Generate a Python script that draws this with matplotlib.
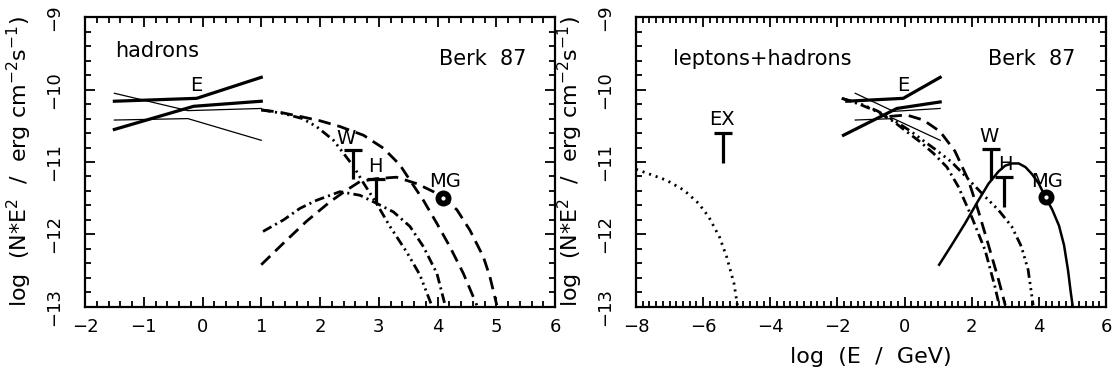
import matplotlib
matplotlib.use("Agg")
import matplotlib.pyplot as plt
from matplotlib.ticker import MultipleLocator

plt.rcParams['font.family'] = ['DejaVu Sans']
plt.rcParams['mathtext.fontset'] = 'dejavusans'
plt.rcParams['lines.scale_dashes'] = False

# ---------------- data: left panel (hadrons) ----------------
eg_thickA_x = [-1.5, -0.1, 1.0]
eg_thickA_y = [-10.16, -10.12, -9.83]
eg_thickB_x = [-1.5, -0.15, 1.0]
eg_thickB_y = [-10.55, -10.23, -10.16]
eg_thinC_x = [-1.5, -0.25, 1.0]
eg_thinC_y = [-10.05, -10.29, -10.26]
eg_thinD_x = [-1.5, -0.25, 1.0]
eg_thinD_y = [-10.42, -10.40, -10.70]

h_up_dash_x = [1.0, 1.3, 1.66, 2.0, 2.34, 2.74, 3.08, 3.36, 3.53, 3.76, 3.99, 4.21, 4.44, 4.67]
h_up_dash_y = [-10.28, -10.31, -10.37, -10.43, -10.51, -10.63, -10.81, -11.04, -11.25, -11.53, -11.85, -12.17, -12.54, -12.98]
h_up_dd_x = [1.0, 1.38, 1.7, 1.94, 2.23, 2.40, 2.57, 2.74, 2.96, 3.19, 3.48, 3.70, 3.90]
h_up_dd_y = [-10.28, -10.33, -10.40, -10.51, -10.70, -10.88, -11.06, -11.29, -11.57, -11.89, -12.25, -12.56, -12.98]
h_lo_dd_x = [1.03, 1.38, 1.66, 1.94, 2.34, 2.68, 2.96, 3.25, 3.53, 3.76, 3.99, 4.13]
h_lo_dd_y = [-11.96, -11.80, -11.64, -11.53, -11.41, -11.46, -11.57, -11.69, -11.89, -12.17, -12.54, -12.98]
h_lo_dash_x = [1.0, 1.38, 1.77, 2.17, 2.45, 2.68, 2.96, 3.30, 3.65, 3.93, 4.10, 4.33, 4.55, 4.78, 4.89, 5.01]
h_lo_dash_y = [-12.42, -12.12, -11.82, -11.55, -11.39, -11.27, -11.23, -11.21, -11.30, -11.41, -11.50, -11.66, -11.94, -12.31, -12.58, -12.98]

# upper limits: x, top, bottom
h_ul_labels = ['W', 'H']
h_ul_x = [2.57, 2.96]
h_ul_top = [-10.83, -11.23]
h_ul_bot = [-11.23, -11.57]
h_ul_text_x = [2.45, 2.94]
h_ul_text_y = [-10.67, -11.06]
h_mg_x, h_mg_y = 4.10, -11.50
h_mg_text = (4.13, -11.27)
h_E_text = (-0.1, -9.94)

# ---------------- data: right panel (leptons+hadrons) ----------------
r_thickA_x = [-1.72, -0.04, 1.06]
r_thickA_y = [-10.16, -10.12, -9.83]
r_thickB_x = [-1.82, -0.23, 1.06]
r_thickB_y = [-10.63, -10.26, -10.17]
r_thinC_x = [-1.47, -0.33, 1.06]
r_thinC_y = [-10.05, -10.30, -10.26]
r_thinD_x = [-1.47, -0.33, 1.06]
r_thinD_y = [-10.42, -10.40, -10.70]

r_sync_x = [-8.0, -7.1, -6.57, -6.14, -5.83, -5.51, -5.30, -5.08, -4.98]
r_sync_y = [-11.10, -11.25, -11.39, -11.57, -11.76, -12.04, -12.31, -12.68, -12.98]
r_dash_x = [-0.45, 0.06, 0.56, 1.06, 1.5, 1.9, 2.2, 2.5, 2.8, 3.0]
r_dash_y = [-10.37, -10.35, -10.42, -10.58, -10.85, -11.25, -11.68, -12.15, -12.63, -12.98]
r_dd_x = [-1.87, -1.35, -0.83, -0.33, 0.06, 0.46, 0.86, 1.26, 1.6, 2.0, 2.4, 2.69, 2.82]
r_dd_y = [-10.12, -10.20, -10.30, -10.44, -10.58, -10.72, -10.88, -11.07, -11.34, -11.76, -12.22, -12.72, -12.98]
r_ddd_x = [-1.87, -1.35, -0.83, -0.33, 0.2, 0.6, 0.93, 1.4, 1.82, 2.40, 2.79, 3.19, 3.48, 3.68, 3.83]
r_ddd_y = [-10.12, -10.19, -10.29, -10.42, -10.58, -10.72, -10.83, -11.0, -11.20, -11.48, -11.66, -11.89, -12.17, -12.49, -12.98]
r_ic_x = [1.03, 1.4, 1.8, 2.2, 2.5, 2.8, 3.0, 3.2, 3.4, 3.6, 3.8, 4.0, 4.2, 4.4, 4.6, 4.75, 4.87, 4.95, 5.01]
r_ic_y = [-12.42, -12.15, -11.85, -11.53, -11.30, -11.13, -11.05, -11.02, -11.02, -11.07, -11.17, -11.30, -11.49, -11.66, -11.88, -12.15, -12.50, -12.80, -13.0]

r_ul_labels = ['W', 'H', 'EX']
r_ul_x = [2.56, 2.96, -5.42]
r_ul_top = [-10.82, -11.21, -10.60]
r_ul_bot = [-11.25, -11.62, -11.02]
r_ul_text_x = [2.51, 3.01, -5.45]
r_ul_text_y = [-10.65, -11.04, -10.41]
r_mg_x, r_mg_y = 4.20, -11.49
r_mg_text = (4.25, -11.27)
r_E_text = (-0.04, -9.94)

# ---------------- styles ----------------
DASH = (0, (9, 5))
DASHDOT = (0, (7, 3, 1.5, 3))
DDD = (0, (7, 3, 1.5, 3, 1.5, 3, 1.5, 3))
DOT = (0, (1.5, 3.5))
LW_THICK = 2.3
LW_THIN = 0.9
LW_CURVE = 2.0
FS = 13
FS_TXT = 15
FS_LBL = 14
FS_AX = 16

fig = plt.figure(figsize=(11.16, 3.81), dpi=100)
axL = fig.add_axes([85/1116, 1 - 306.7/381, 470/1116, 289.4/381])
axR = fig.add_axes([636/1116, 1 - 306.7/381, 470/1116, 289.4/381])


def style_axes(ax, xlim, xmajor, xminor):
    ax.set_xlim(*xlim)
    ax.set_ylim(-13, -9)
    ax.xaxis.set_major_locator(MultipleLocator(xmajor))
    ax.xaxis.set_minor_locator(MultipleLocator(xminor))
    ax.yaxis.set_major_locator(MultipleLocator(1))
    ax.yaxis.set_minor_locator(MultipleLocator(0.2))
    ax.tick_params(which='both', direction='in', top=True, right=True, width=1.3,
                   labelsize=FS)
    ax.tick_params(which='major', length=7)
    ax.tick_params(which='minor', length=4)
    ax.tick_params(axis='x', pad=8)
    ax.tick_params(axis='y', labelrotation=90, pad=16)
    for lab in ax.get_yticklabels():
        lab.set_va('center')
    for s in ax.spines.values():
        s.set_linewidth(1.6)
    ax.set_ylabel(r'log  (N$*$E$^2$  /  erg cm$^{-2}$s$^{-1}$)', fontsize=FS_AX)
    ax.yaxis.set_label_coords(-0.108, 0.5)


def upper_limits(ax, xs, tops, bots):
    ax.vlines(xs, bots, tops, colors='k', linewidth=LW_THICK)
    ax.plot(xs, tops, linestyle='none', marker='_', markersize=13,
            markeredgewidth=LW_THICK, color='k')


def mg_point(ax, x, y):
    ax.plot([x], [y], 'o', color='k', markersize=10.5, zorder=5)
    ax.plot([x], [y], 'o', color='w', markersize=2, zorder=6)


# ----- left -----
style_axes(axL, (-2, 6), 1, 0.2)
axL.plot(eg_thickA_x, eg_thickA_y, color='k', lw=LW_THICK)
axL.plot(eg_thickB_x, eg_thickB_y, color='k', lw=LW_THICK)
axL.plot(eg_thinC_x, eg_thinC_y, color='k', lw=LW_THIN)
axL.plot(eg_thinD_x, eg_thinD_y, color='k', lw=LW_THIN)
axL.plot(h_up_dash_x, h_up_dash_y, color='k', lw=LW_CURVE, linestyle=DASH)
axL.plot(h_up_dd_x, h_up_dd_y, color='k', lw=LW_CURVE, linestyle=DDD)
axL.plot(h_lo_dd_x, h_lo_dd_y, color='k', lw=LW_CURVE, linestyle=DASHDOT)
axL.plot(h_lo_dash_x, h_lo_dash_y, color='k', lw=LW_CURVE, linestyle=DASH)
upper_limits(axL, h_ul_x, h_ul_top, h_ul_bot)
for t, x, y in zip(h_ul_labels, h_ul_text_x, h_ul_text_y):
    axL.text(x, y, t, ha='center', va='center', fontsize=FS_LBL)
mg_point(axL, h_mg_x, h_mg_y)
axL.text(*h_mg_text, 'MG', ha='center', va='center', fontsize=FS_LBL)
axL.text(*h_E_text, 'E', ha='center', va='center', fontsize=FS_LBL)
axL.text(0.064, 0.885, 'hadrons', transform=axL.transAxes, ha='left', va='center', fontsize=FS_TXT)
axL.text(0.94, 0.856, 'Berk  87', transform=axL.transAxes, ha='right', va='center', fontsize=FS_TXT)

# ----- right -----
style_axes(axR, (-8, 6), 2, 0.2)
axR.plot(r_thickA_x, r_thickA_y, color='k', lw=LW_THICK)
axR.plot(r_thickB_x, r_thickB_y, color='k', lw=LW_THICK)
axR.plot(r_thinC_x, r_thinC_y, color='k', lw=LW_THIN)
axR.plot(r_thinD_x, r_thinD_y, color='k', lw=LW_THIN)
axR.plot(r_sync_x, r_sync_y, color='k', lw=LW_CURVE, linestyle=DOT)
axR.plot(r_dash_x, r_dash_y, color='k', lw=LW_CURVE, linestyle=DASH)
axR.plot(r_dd_x, r_dd_y, color='k', lw=LW_CURVE, linestyle=DASHDOT)
axR.plot(r_ddd_x, r_ddd_y, color='k', lw=LW_CURVE, linestyle=DDD)
axR.plot(r_ic_x, r_ic_y, color='k', lw=1.8)
upper_limits(axR, r_ul_x, r_ul_top, r_ul_bot)
for t, x, y in zip(r_ul_labels, r_ul_text_x, r_ul_text_y):
    axR.text(x, y, t, ha='center', va='center', fontsize=FS_LBL)
mg_point(axR, r_mg_x, r_mg_y)
axR.text(*r_mg_text, 'MG', ha='center', va='center', fontsize=FS_LBL)
axR.text(*r_E_text, 'E', ha='center', va='center', fontsize=FS_LBL)
axR.text(0.078, 0.856, 'leptons+hadrons', transform=axR.transAxes, ha='left', va='center', fontsize=FS_TXT)
axR.text(0.935, 0.856, 'Berk  87', transform=axR.transAxes, ha='right', va='center', fontsize=FS_TXT)
axR.set_xlabel('log  (E  /  GeV)', fontsize=FS_AX, labelpad=8)

fig.savefig('out.png', dpi=100)
